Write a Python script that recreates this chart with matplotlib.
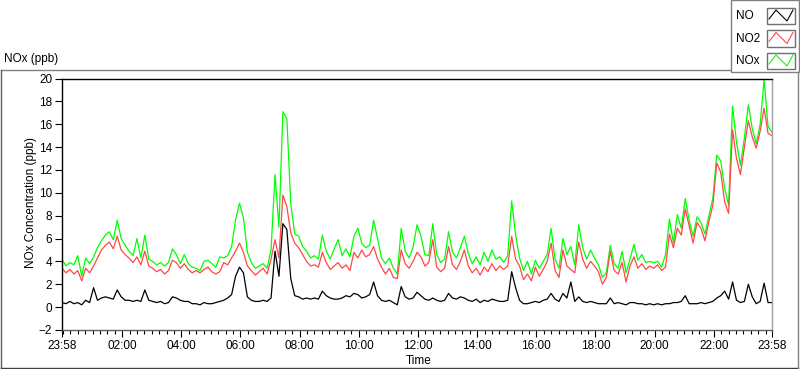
import numpy as np
import matplotlib.pyplot as plt
from matplotlib.lines import Line2D
from matplotlib.patches import Rectangle

plt.rcParams['font.family'] = ['Liberation Sans', 'DejaVu Sans']
plt.rcParams['font.size'] = 8

# samples every 8 minutes, starting 23:58 (= -2 min) and ending 23:58 next day
start_min = -2
step_min = 8

no2 = [3.4, 3.0, 3.3, 2.9, 3.2, 2.3, 3.4, 3.0, 3.6, 4.3,
       5.0, 5.4, 5.7, 5.1, 6.2, 5.0, 4.6, 4.3, 3.9, 4.4,
       3.7, 4.9, 3.6, 3.4, 3.1, 3.3, 2.9, 3.2, 4.1, 3.9,
       3.4, 3.8, 3.3, 3.0, 3.2, 3.0, 3.3, 3.5, 3.1, 2.9,
       3.1, 3.9, 3.7, 4.3, 4.9, 5.6, 4.8, 3.6, 3.2, 2.8,
       3.1, 3.4, 2.9, 4.2, 5.9, 4.3, 9.8, 8.8, 6.5, 5.6,
       5.2, 4.6, 4.0, 3.6, 3.7, 3.5, 4.8, 3.9, 3.3, 3.6,
       3.9, 3.4, 3.7, 3.2, 4.8, 4.3, 5.0, 4.4, 4.6, 5.3,
       4.2, 3.5, 2.9, 3.4, 2.6, 2.5, 5.0, 3.8, 3.4, 4.0,
       4.8, 4.4, 3.6, 3.9, 5.9, 3.5, 3.1, 3.4, 5.3, 3.7,
       3.3, 4.0, 5.0, 3.6, 3.0, 3.4, 2.8, 3.5, 3.1, 3.8,
       3.2, 3.6, 3.3, 3.6, 6.2, 4.2, 3.6, 2.4, 2.9, 2.3,
       3.5, 2.7, 3.3, 4.0, 5.6, 3.2, 2.6, 5.0, 3.6, 3.3,
       3.0, 5.7, 4.2, 3.4, 4.0, 3.6, 3.1, 2.0, 2.6, 4.9,
       3.2, 2.9, 3.9, 2.2, 3.6, 4.4, 3.4, 3.8, 3.3, 3.6,
       3.4, 3.7, 3.2, 3.5, 6.4, 5.2, 6.9, 6.3, 8.6, 7.1,
       5.6, 7.4, 6.9, 5.8, 7.5, 8.9, 12.6, 11.8, 9.2, 8.2,
       15.5, 13.0, 11.6, 14.0, 16.3, 14.9, 13.9, 15.4, 17.4, 15.2, 15.0]

nox = [4.2, 3.6, 3.9, 3.7, 4.5, 2.7, 4.3, 3.8, 4.4, 5.2,
       5.8, 6.3, 6.6, 5.9, 7.6, 6.0, 5.4, 4.9, 4.5, 6.0,
       4.3, 6.3, 4.2, 4.0, 3.7, 3.9, 3.6, 3.9, 5.1, 4.6,
       3.8, 4.6, 3.8, 3.5, 3.4, 3.2, 4.0, 4.1, 3.8, 3.5,
       4.4, 4.3, 4.5, 5.3, 7.6, 9.1, 7.8, 4.8, 3.9, 3.4,
       3.6, 3.8, 3.4, 5.0, 11.6, 7.0, 17.1, 16.5, 9.0, 6.4,
       6.2, 5.3, 4.9, 4.3, 4.5, 4.2, 6.3, 4.9, 4.2, 5.1,
       5.9, 4.5, 5.1, 4.4, 6.2, 6.9, 5.6, 5.2, 5.4, 7.6,
       6.0, 4.3, 3.8, 4.3, 3.4, 2.9, 6.9, 4.9, 4.3, 5.2,
       7.2, 6.2, 4.6, 4.5, 7.3, 4.6, 3.9, 4.2, 6.6, 4.8,
       4.3, 5.2, 6.2, 4.7, 3.8, 4.4, 3.7, 4.8, 4.0, 5.0,
       4.2, 4.4, 3.9, 4.5, 9.3, 6.3, 4.3, 3.2, 4.0, 2.9,
       4.1, 3.4, 4.0, 4.6, 6.9, 4.2, 3.4, 6.0, 4.6, 5.3,
       3.7, 7.2, 5.2, 4.2, 5.0, 4.3, 3.7, 2.6, 3.0, 5.4,
       3.8, 3.4, 4.9, 3.0, 4.2, 5.5, 4.1, 4.6, 3.9, 4.0,
       3.9, 4.0, 3.5, 4.6, 7.7, 5.6, 8.1, 6.9, 9.5, 7.6,
       6.2, 7.9, 7.4, 6.4, 8.0, 9.5, 13.3, 12.8, 10.4, 8.9,
       17.6, 14.4, 12.4, 14.8, 17.7, 15.6, 14.3, 16.0, 19.9, 15.8, 15.3]

no = [0.4, 0.3, 0.5, 0.3, 0.4, 0.2, 0.6, 0.4, 1.7, 0.6,
      0.8, 0.9, 0.8, 0.7, 1.5, 0.9, 0.6, 0.6, 0.5, 0.6,
      0.5, 1.5, 0.6, 0.5, 0.4, 0.5, 0.3, 0.4, 0.9, 0.8,
      0.6, 0.5, 0.5, 0.3, 0.3, 0.2, 0.4, 0.3, 0.3, 0.4,
      0.5, 0.6, 0.8, 1.1, 2.7, 3.5, 3.0, 0.9, 0.6, 0.5,
      0.5, 0.6, 0.5, 0.8, 4.9, 2.7, 7.3, 6.8, 2.5, 1.0,
      0.9, 0.7, 0.8, 0.7, 0.8, 0.7, 1.4, 1.0, 0.8, 0.7,
      0.7, 0.8, 1.0, 0.9, 1.2, 1.1, 0.8, 0.9, 1.1, 2.2,
      1.0, 0.6, 0.5, 0.6, 0.4, 0.2, 1.8, 0.9, 0.7, 0.8,
      1.3, 1.0, 0.7, 0.6, 0.8, 0.6, 0.5, 0.6, 1.2, 0.8,
      0.7, 0.9, 0.8, 0.6, 0.5, 0.7, 0.4, 0.6, 0.5, 0.7,
      0.6, 0.5, 0.5, 0.6, 3.1, 1.7, 0.6, 0.3, 0.3, 0.4,
      0.5, 0.4, 0.6, 0.7, 1.2, 0.7, 0.5, 1.2, 0.8, 2.2,
      0.5, 0.9, 0.5, 0.4, 0.5, 0.4, 0.3, 0.3, 0.3, 0.8,
      0.3, 0.4, 0.3, 0.2, 0.4, 0.4, 0.3, 0.3, 0.2, 0.3,
      0.2, 0.3, 0.2, 0.3, 0.3, 0.4, 0.4, 0.5, 1.0, 0.3,
      0.3, 0.3, 0.4, 0.3, 0.4, 0.5, 0.8, 1.0, 1.4, 0.7,
      2.2, 0.6, 0.4, 0.5, 2.0, 0.9, 0.3, 0.5, 2.1, 0.4, 0.4]

series_names = ['NO', 'NO2', 'NOx']
series_colors = ['#000000', '#ff4747', '#00ff00']

major_min = [-2, 120, 240, 360, 480, 600, 720, 840, 960, 1080, 1200, 1320, 1438]
major_labels = ['23:58', '02:00', '04:00', '06:00', '08:00', '10:00', '12:00',
                '14:00', '16:00', '18:00', '20:00', '22:00', '23:58']
yticks = list(range(-2, 21, 2))

W, H = 800, 369


def px(x, y):
    # pixel (top-left origin) -> figure fraction
    return x / W, 1 - y / H


fig = plt.figure(figsize=(W / 100, H / 100), dpi=100)
ax = fig.add_axes([62 / W, 1 - 330 / H, 710 / W, 251.5 / H])

t = start_min + step_min * np.arange(len(no2))
ax.plot(t, nox, color=series_colors[2], lw=0.9)
ax.plot(t, no2, color=series_colors[1], lw=0.9)
ax.plot(t, no, color=series_colors[0], lw=0.9)

ax.set_xlim(-2, 1438)
ax.set_ylim(-2, 20)
ax.set_yticks(yticks)
ax.set_xticks(major_min)
ax.set_xticklabels(major_labels)
minor = [m for m in range(0, 1440, 15) if m not in major_min]
ax.set_xticks(minor, minor=True)
ax.tick_params(axis='both', which='major', direction='out', length=5, width=0.8, pad=2, labelsize=8.5)
ax.tick_params(axis='x', which='minor', direction='out', length=3, width=0.8)
ax.spines['top'].set_color('black')
ax.spines['left'].set_color('black')
ax.spines['right'].set_color('#a0a0a0')
ax.spines['bottom'].set_color('#606060')
for s in ax.spines.values():
    s.set_linewidth(1)

# outer frame
for (x0, y0, x1, y1, c) in [(0.5, 69.5, 730, 69.5, '#808080'), (0.5, 69.5, 0.5, 367.5, '#606060'),
                            (0.5, 367.5, 797.5, 367.5, '#404040'), (797.5, 72, 797.5, 367.5, '#808080')]:
    fig.add_artist(Line2D([x0 / W, x1 / W], [1 - y0 / H, 1 - y1 / H], color=c, lw=1))

fig.text(*px(4, 59), 'NOx (ppb)', ha='left', va='center', fontsize=8.5)
fig.text(*px(31, 203), 'NOx Concentration (ppb)', rotation=90, ha='center', va='center', fontsize=8.5)
fig.text(*px(419, 361), 'Time', ha='center', va='center', fontsize=8.5)

# legend box
lx0, ly0 = px(730.5, 71.5)
fig.add_artist(Rectangle((lx0, ly0), (798.5 - 730.5) / W, 71 / H, facecolor='white',
                         edgecolor='#808080', lw=1, transform=fig.transFigure))
for k, (name, col) in enumerate(zip(series_names, series_colors)):
    yc = 16 + 22.5 * k
    fig.text(*px(736, yc), name, ha='left', va='center', fontsize=8.5)
    bx, by = px(767, yc + 8)
    fig.add_artist(Rectangle((bx, by), 28 / W, 16 / H, facecolor='white',
                             edgecolor='#707070', lw=1, transform=fig.transFigure))
    zx = [769, 776, 787, 793]
    zy = [yc + 3, yc - 6, yc + 5, yc - 6]
    fig.add_artist(Line2D([v / W for v in zx], [1 - v / H for v in zy], color=col, lw=0.8))

fig.savefig('out.png', dpi=100)
